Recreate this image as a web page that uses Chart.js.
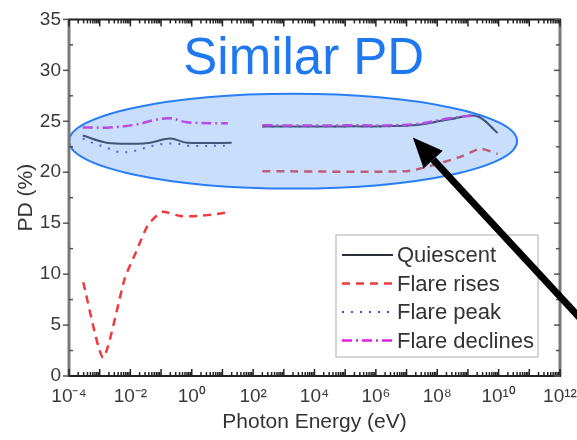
<!DOCTYPE html>
<html>
<head>
<meta charset="utf-8">
<script src="https://cdn.jsdelivr.net/npm/chart.js@4.4.1/dist/chart.umd.min.js"></script>
<style>
  html, body { margin: 0; padding: 0; background: #fff; }
  #wrap { width: 577px; height: 440px; }
</style>
</head>
<body>
<div id="wrap"><canvas id="pdChart" width="577" height="440"></canvas></div>
<script>
// photon energy (eV) and PD (%), null = gap between bands
const quiescentE  = [2.8e-4, 1.7e-3, 1.7e-2, 4.4e-2, 0.2, 0.7, 20, 60, 200, 1e5, 1.6e7, 2.6e8, 2e9, 9.3e9];
const quiescentPD = [23.6, 22.9, 22.8, 22.9, 23.3, 22.9, 22.9, null, 24.5, 24.5, 24.6, 25.2, 25.5, 23.85];

const risesE  = [2.9e-4, 1.3e-3, 6.6e-3, 1.6e-2, 3.7e-2, 0.107, 0.42, 1.6, 6.6, 18, 60, 200, 1e7, 1e8, 6.8e8, 2.5e9, 9.3e9];
const risesPD = [9.2, 1.8, 9.6, 12.3, 14.8, 16.1, 15.7, 15.7, 15.9, 16.1, null, 20.1, 20.1, 20.8, 21.6, 22.3, 21.8];

const peakE  = [2.8e-4, 7e-4, 1.7e-3, 4e-3, 1e-2, 2.4e-2, 5.5e-2, 0.13, 0.33, 0.76, 12, 60, 200, 1e5, 1.6e7, 2.6e8, 2e9, 9.3e9];
const peakPD = [23.3, 22.8, 22.4, 22.0, 22.0, 22.3, 22.6, 22.8, 22.8, 22.6, 22.6, null, 24.5, 24.5, 24.6, 25.2, 25.5, 23.85];

const declinesE  = [2.8e-4, 2.2e-3, 1.7e-2, 5.5e-2, 0.2, 0.7, 15, 60, 200, 1e5, 1.6e7, 2.6e8, 2e9];
const declinesPD = [24.4, 24.4, 24.7, 25.1, 25.3, 24.9, 24.8, null, 24.6, 24.6, 24.7, 25.3, 25.6];

const energyTicks = [1e-4, 1e-2, 1, 1e2, 1e4, 1e6, 1e8, 1e10, 1e12];
const energyTickLabels = ['10⁻⁴', '10⁻²', '10⁰', '10²', '10⁴', '10⁶', '10⁸', '10¹⁰', '10¹²'];
const pdTicks = [0, 5, 10, 15, 20, 25, 30, 35];

const FONT = '"Liberation Sans", Arial, sans-serif';
const pts = (xs, ys) => xs.map((x, i) => ({ x: x, y: ys[i] }));

// highlight ellipse + arrow, in data units
const ellipseBox = { x0: 1e-4, x1: 4e10, y0: 18.4, y1: 27.7 };
const arrowTip = { x: 1.6e7, y: 23.4 };
const arrowTail = { x: 6.3e12, y: 5.2 };

const decor = {
  id: 'decor',
  afterDatasetsDraw(chart) {
    const { ctx, scales: { x, y } } = chart;
    const l = x.getPixelForValue(ellipseBox.x0), r = x.getPixelForValue(ellipseBox.x1);
    const t = y.getPixelForValue(ellipseBox.y1), b = y.getPixelForValue(ellipseBox.y0);
    ctx.save();
    ctx.beginPath();
    ctx.ellipse((l + r) / 2, (t + b) / 2, (r - l) / 2, (b - t) / 2, 0, 0, Math.PI * 2);
    ctx.fillStyle = 'rgba(100,160,240,0.35)';
    ctx.fill();
    ctx.lineWidth = 2;
    ctx.strokeStyle = '#2a7ef5';
    ctx.stroke();
    ctx.restore();
  },
  afterDraw(chart) {
    const { ctx, chartArea: a, scales: { x, y } } = chart;
    ctx.save();

    // frame
    ctx.lineCap = 'butt';
    ctx.strokeStyle = '#7a7a7a';
    ctx.lineWidth = 3;
    ctx.beginPath(); ctx.moveTo(a.left, a.top); ctx.lineTo(a.left, a.bottom); ctx.stroke();
    ctx.beginPath(); ctx.moveTo(a.right, a.top); ctx.lineTo(a.right, a.bottom); ctx.stroke();
    ctx.strokeStyle = '#222';
    ctx.lineWidth = 2;
    ctx.beginPath(); ctx.moveTo(a.left - 1, a.bottom); ctx.lineTo(a.right + 1, a.bottom); ctx.stroke();
    ctx.beginPath(); ctx.moveTo(a.left - 1, a.top); ctx.lineTo(a.right + 1, a.top); ctx.stroke();

    // x tick marks (inward, top and bottom)
    ctx.lineWidth = 1.5;
    ctx.strokeStyle = '#222';
    for (let p = -4; p <= 12; p++) {
      for (let k = 1; k <= 9; k++) {
        const v = k * Math.pow(10, p);
        if (v > 1e12 * 1.0001) break;
        const px = x.getPixelForValue(v);
        const len = k === 1 ? 7 : 4;
        ctx.beginPath(); ctx.moveTo(px, a.bottom); ctx.lineTo(px, a.bottom - len); ctx.stroke();
        ctx.beginPath(); ctx.moveTo(px, a.top); ctx.lineTo(px, a.top + len); ctx.stroke();
      }
    }
    // y tick marks
    ctx.strokeStyle = '#555';
    for (let v = 0; v <= 35; v += 2.5) {
      const py = y.getPixelForValue(v);
      const major = v % 5 === 0;
      if (major) {
        ctx.beginPath(); ctx.moveTo(a.left - 6, py); ctx.lineTo(a.left, py); ctx.stroke();
      } else {
        ctx.beginPath(); ctx.moveTo(a.left, py); ctx.lineTo(a.left + 4, py); ctx.stroke();
      }
      ctx.beginPath(); ctx.moveTo(a.right, py); ctx.lineTo(a.right - (major ? 6 : 4), py); ctx.stroke();
    }

    // title inside the plot
    ctx.fillStyle = '#1f78f2';
    ctx.font = '51px ' + FONT;
    ctx.textAlign = 'center';
    ctx.textBaseline = 'alphabetic';
    ctx.fillText('Similar PD', x.getPixelForValue(Math.pow(10, 3.65)), y.getPixelForValue(29.6));

    // legend
    const lx = a.right - 224, ly = a.bottom - 141, lw = 202, lh = 122;
    ctx.fillStyle = '#fff';
    ctx.fillRect(lx, ly, lw, lh);
    ctx.strokeStyle = '#c8c8c8';
    ctx.lineWidth = 1.5;
    ctx.strokeRect(lx, ly, lw, lh);
    ctx.font = '22px ' + FONT;
    ctx.textAlign = 'left';
    ctx.textBaseline = 'middle';
    chart.data.datasets.forEach((ds, i) => {
      const ry = ly + 20 + i * 28.5;
      ctx.save();
      ctx.strokeStyle = ds.borderColor;
      ctx.lineWidth = ds.borderWidth;
      ctx.setLineDash(ds.borderDash || []);
      ctx.beginPath(); ctx.moveTo(lx + 6, ry); ctx.lineTo(lx + 57, ry); ctx.stroke();
      ctx.restore();
      ctx.fillStyle = '#333';
      ctx.fillText(ds.label, lx + 61, ry + 1);
    });

    // arrow
    const tx = x.getPixelForValue(arrowTip.x), ty = y.getPixelForValue(arrowTip.y);
    const sx = x.getPixelForValue(arrowTail.x), sy = y.getPixelForValue(arrowTail.y);
    const ang = Math.atan2(ty - sy, tx - sx);
    const hl = 30, hw = 13;
    const bx = tx - hl * Math.cos(ang), by = ty - hl * Math.sin(ang);
    ctx.strokeStyle = '#000';
    ctx.lineWidth = 7;
    ctx.beginPath(); ctx.moveTo(sx, sy); ctx.lineTo(bx, by); ctx.stroke();
    ctx.fillStyle = '#000';
    ctx.beginPath();
    ctx.moveTo(tx, ty);
    ctx.lineTo(bx + hw * Math.sin(ang), by - hw * Math.cos(ang));
    ctx.lineTo(bx - hw * Math.sin(ang), by + hw * Math.cos(ang));
    ctx.closePath();
    ctx.fill();

    ctx.restore();
  }
};

const ctx = document.getElementById('pdChart').getContext('2d');

new Chart(ctx, {
  type: 'line',
  data: {
    datasets: [
      { label: 'Quiescent', data: pts(quiescentE, quiescentPD), borderColor: '#2b2e36', borderWidth: 2, tension: 0.35, order: 1 },
      { label: 'Flare rises', data: pts(risesE, risesPD), borderColor: '#f03a3a', borderWidth: 2.5, borderDash: [8, 6], tension: 0.2, order: 3 },
      { label: 'Flare peak', data: pts(peakE, peakPD), borderColor: '#4646e6', borderWidth: 2, borderDash: [2, 7], tension: 0.35, order: 2 },
      { label: 'Flare declines', data: pts(declinesE, declinesPD), borderColor: '#e21ee2', borderWidth: 2.5, borderDash: [10, 4, 2, 4], tension: 0.35, order: 0 }
    ]
  },
  options: {
    responsive: false,
    animation: false,
    spanGaps: false,
    elements: { point: { radius: 0 } },
    layout: { padding: { top: 18, right: 17, left: 0, bottom: 0 } },
    plugins: {
      legend: { display: false },
      tooltip: { enabled: false }
    },
    scales: {
      x: {
        type: 'logarithmic',
        min: 1e-4,
        max: 1e12,
        afterBuildTicks: s => { s.ticks = energyTicks.map(v => ({ value: v })); },
        afterFit: s => { s.height = 64; s.paddingLeft = 0; s.paddingRight = 0; },
        grid: { display: false, drawTicks: false },
        border: { display: false },
        ticks: {
          autoSkip: false, maxRotation: 0, padding: 9, color: '#3a3a3a',
          font: { family: FONT, size: 19 },
          callback: (v, i) => energyTickLabels[i]
        },
        title: { display: true, text: 'Photon Energy (eV)', color: '#333', font: { family: FONT, size: 21 }, padding: { top: 0, bottom: 5 } }
      },
      y: {
        min: 0,
        max: 35,
        afterBuildTicks: s => { s.ticks = pdTicks.map(v => ({ value: v })); },
        afterFit: s => { s.width = 69; },
        grid: { display: false, drawTicks: false },
        border: { display: false },
        ticks: { padding: 8, color: '#3a3a3a', font: { family: FONT, size: 19 } },
        title: { display: true, text: 'PD (%)', color: '#333', font: { family: FONT, size: 21 }, padding: { top: 14, bottom: 0 } }
      }
    }
  },
  plugins: [decor]
});
</script>
</body>
</html>
